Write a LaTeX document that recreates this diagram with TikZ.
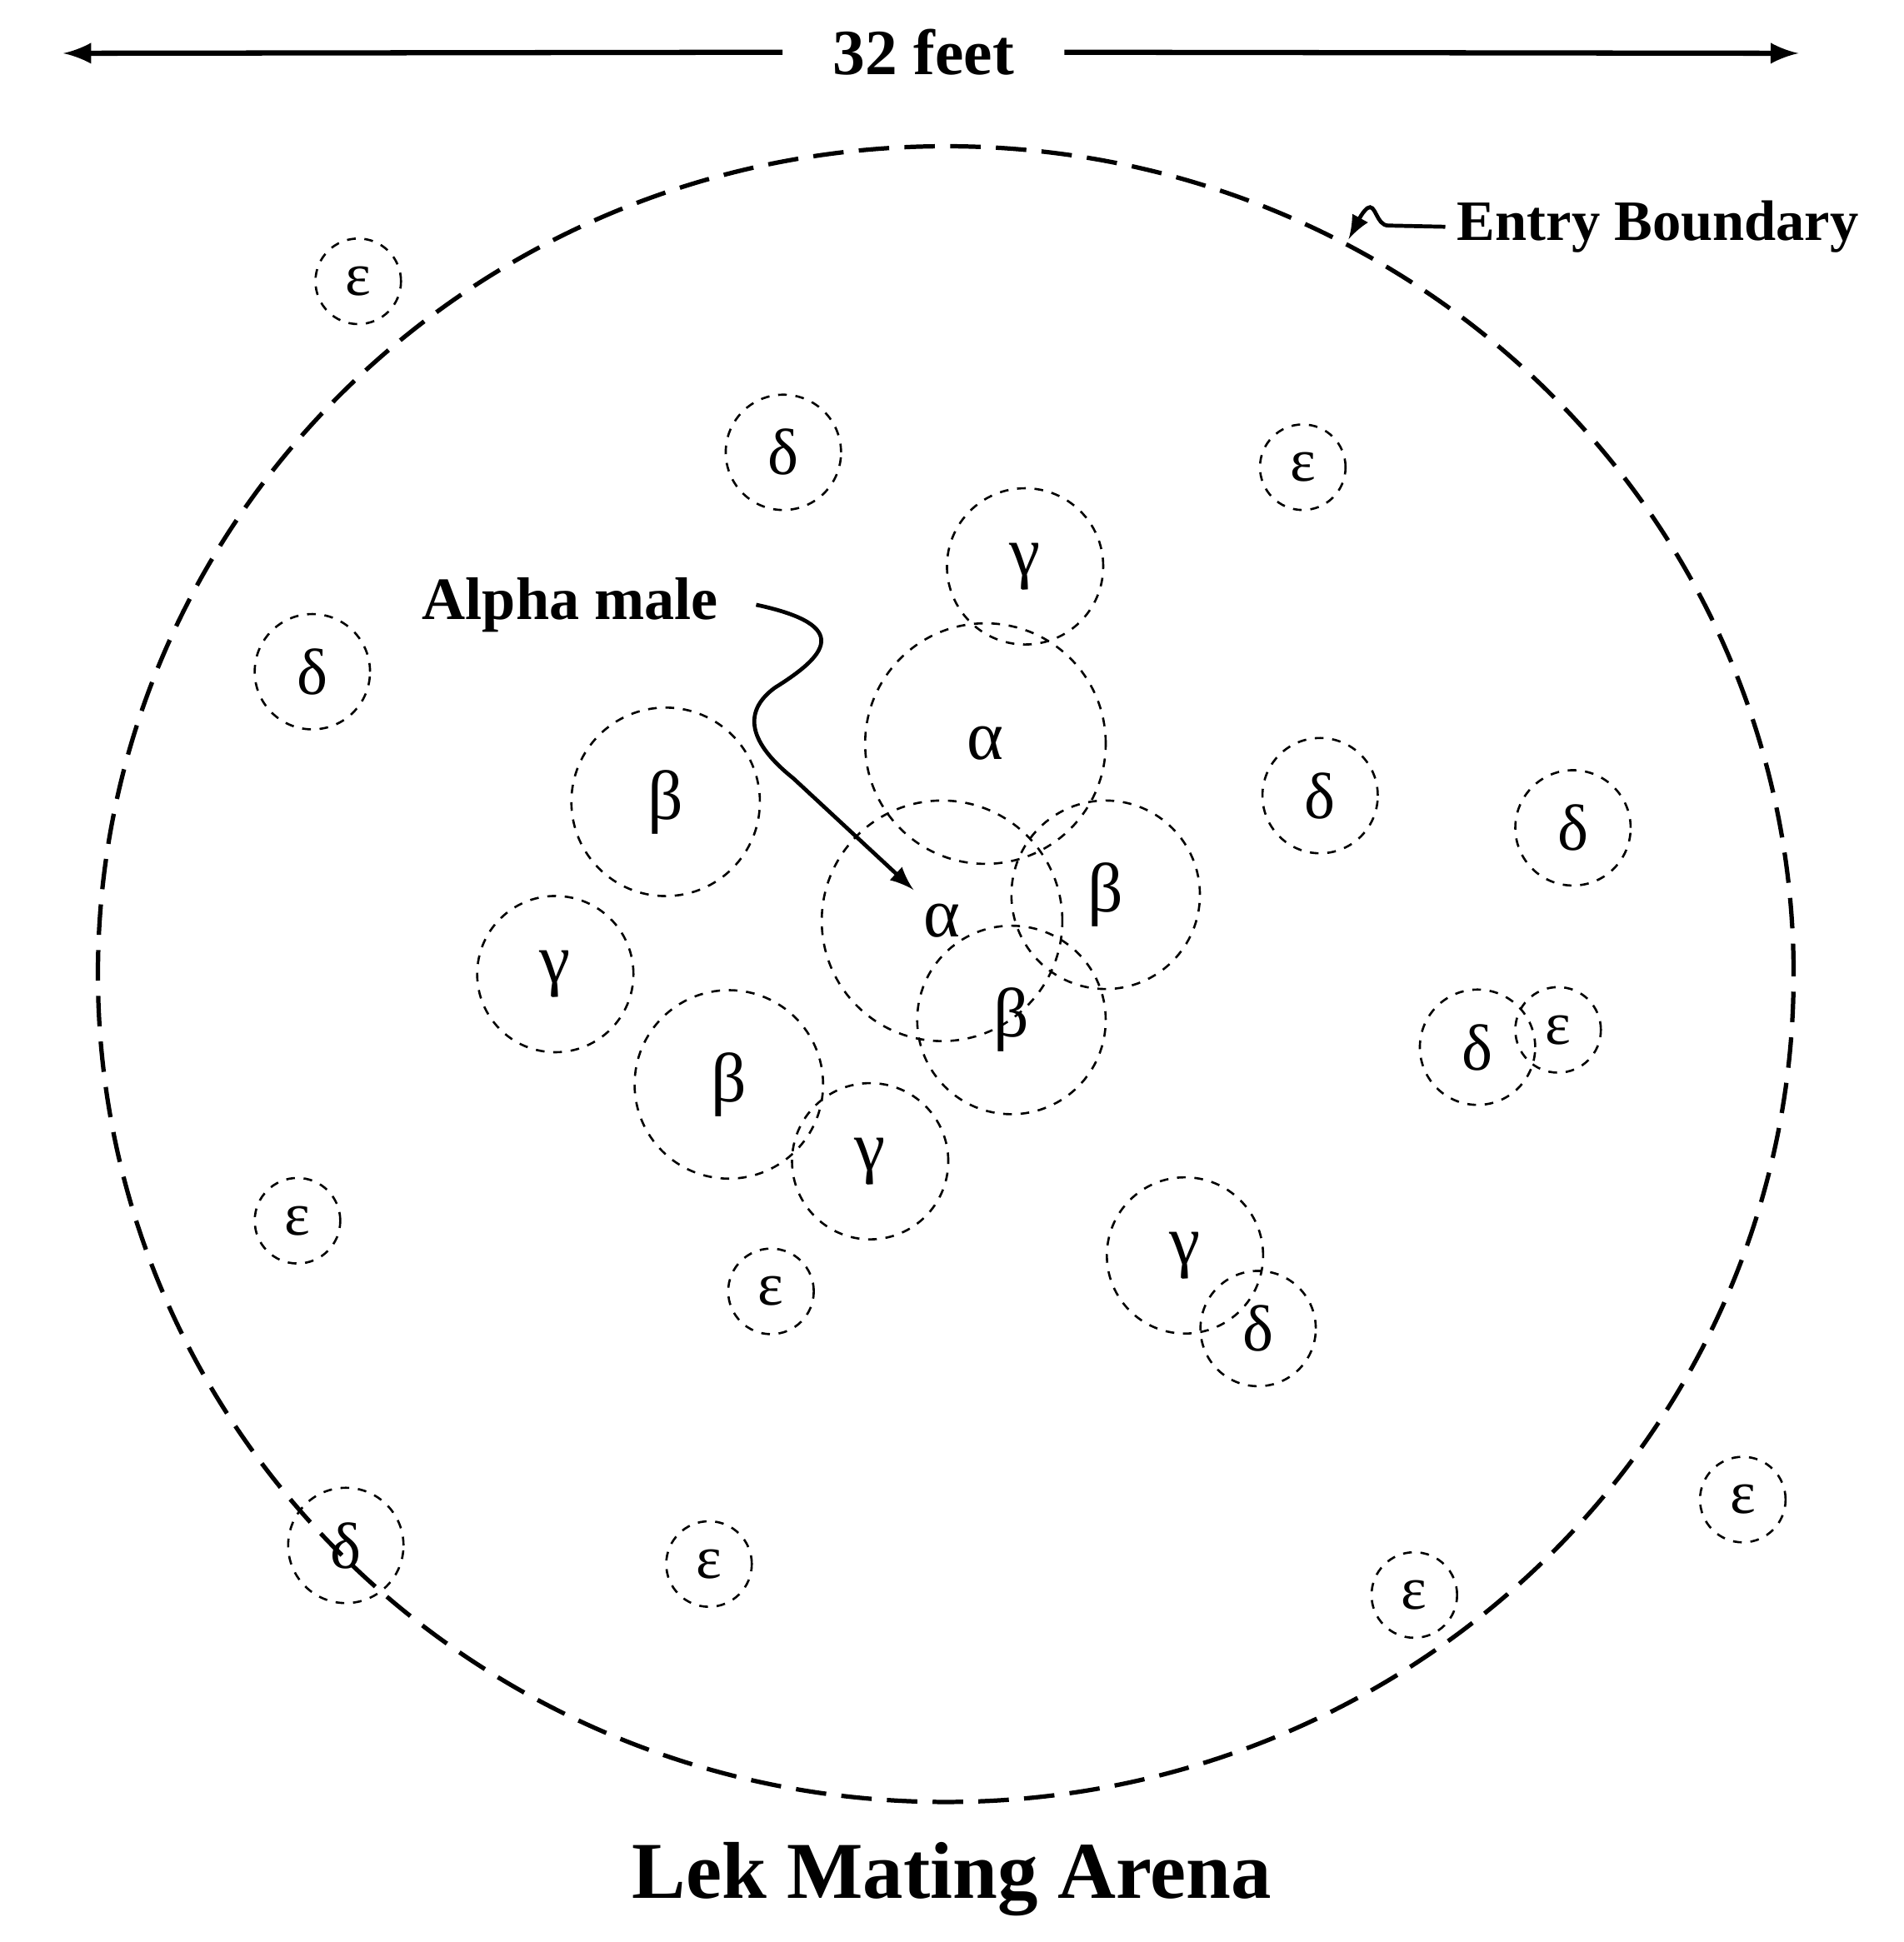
\documentclass[tikz,border=0pt]{standalone}
\usepackage{fontspec}
\setmainfont{Liberation Serif}
\usetikzlibrary{arrows}
\tikzset{
  spot/.style={draw, circle, inner sep=0pt, line width=0.5pt, dash pattern=on 2pt off 2pt},
  alphaspot/.style={spot, minimum size=1.94cm, font=\fontsize{16}{18}\selectfont},
  betaspot/.style={spot, minimum size=1.52cm, font=\fontsize{16}{18}\selectfont},
  gammaspot/.style={spot, minimum size=1.26cm, font=\fontsize{16}{18}\selectfont},
  deltaspot/.style={spot, minimum size=0.93cm, font=\fontsize{15}{17}\selectfont},
  epsspot/.style={spot, minimum size=0.69cm, font=\fontsize{14}{16}\selectfont},
  boundary/.style={line width=1pt, dash pattern=on 7pt off 3.5pt},
  lbl/.style={font=\bfseries\fontsize{13.8}{16}\selectfont}
}
\begin{document}
\begin{tikzpicture}[x=0.01cm,y=0.01cm]
\useasboundingbox (0,0) rectangle (1536,-1567);
% width arrow
\node[lbl, font=\bfseries\fontsize{14.8}{17}\selectfont, inner xsep=0.4cm, inner ysep=0pt] (feet) at (745,-42) {32 feet};
\coordinate (lend) at (51,-43);
\coordinate (rend) at (1451,-43);
\draw[line width=1.2pt,-latex] (feet) -- (lend);
\draw[line width=1.2pt,-latex] (feet) -- (rend);
% arena
\draw[boundary] (763,-786) ellipse [x radius=684, y radius=668];
\node[lbl, font=\bfseries\fontsize{13.1}{16}\selectfont, anchor=base west, inner xsep=0.09cm, inner ysep=0pt] (entry) at (1166,-194) {Entry Boundary};
\coordinate (tipb) at (1088,-193);
\draw[line width=0.9pt,-latex] (entry.west) -- (1120,-182)
  .. controls (1110,-182) and (1110,-163) .. (1103,-168)
  .. controls (1098,-172) and (1094,-182) .. (tipb);
% males
\foreach \x/\y/\n in {795/600/1,760/743/2}
\node[alphaspot] (a\n) at (\x,-\y) {α};
\foreach \x/\y/\n in {537/647/1,892/722/2,816/823/3,588/875/4}
\node[betaspot] (b\n) at (\x,-\y) {β};
\foreach \x/\y/\n in {827/457/1,448/786/2,702/937/3,956/1013/4}
\node[gammaspot] (g\n) at (\x,-\y) {γ};
\foreach \x/\y/\n in {632/365/1,252/542/2,1065/642/3,1269/668/4,1192/845/5,1015/1072/6,279/1247/7}
\node[deltaspot] (d\n) at (\x,-\y) {δ};
\foreach \x/\y/\n in {289/227/1,1051/377/2,1257/831/3,240/985/4,622/1042/5,1406/1210/6,572/1262/7,1141/1287/8}
\node[epsspot] (e\n) at (\x,-\y) {ε};
% alpha male pointer
\node[lbl, inner xsep=0.3cm] (alpha) at (460,-488) {Alpha male};
\coordinate (tipa) at (737,-718);
\draw[line width=0.9pt,-latex] (alpha.east) .. controls (690,-505) and (665,-530) .. (625,-555)
  .. controls (598,-575) and (605,-600) .. (640,-628) -- (tipa);
\node[font=\bfseries\fontsize{18.5}{22}\selectfont, anchor=base] (title) at (768,-1532) {Lek Mating Arena};
\end{tikzpicture}
\end{document}
